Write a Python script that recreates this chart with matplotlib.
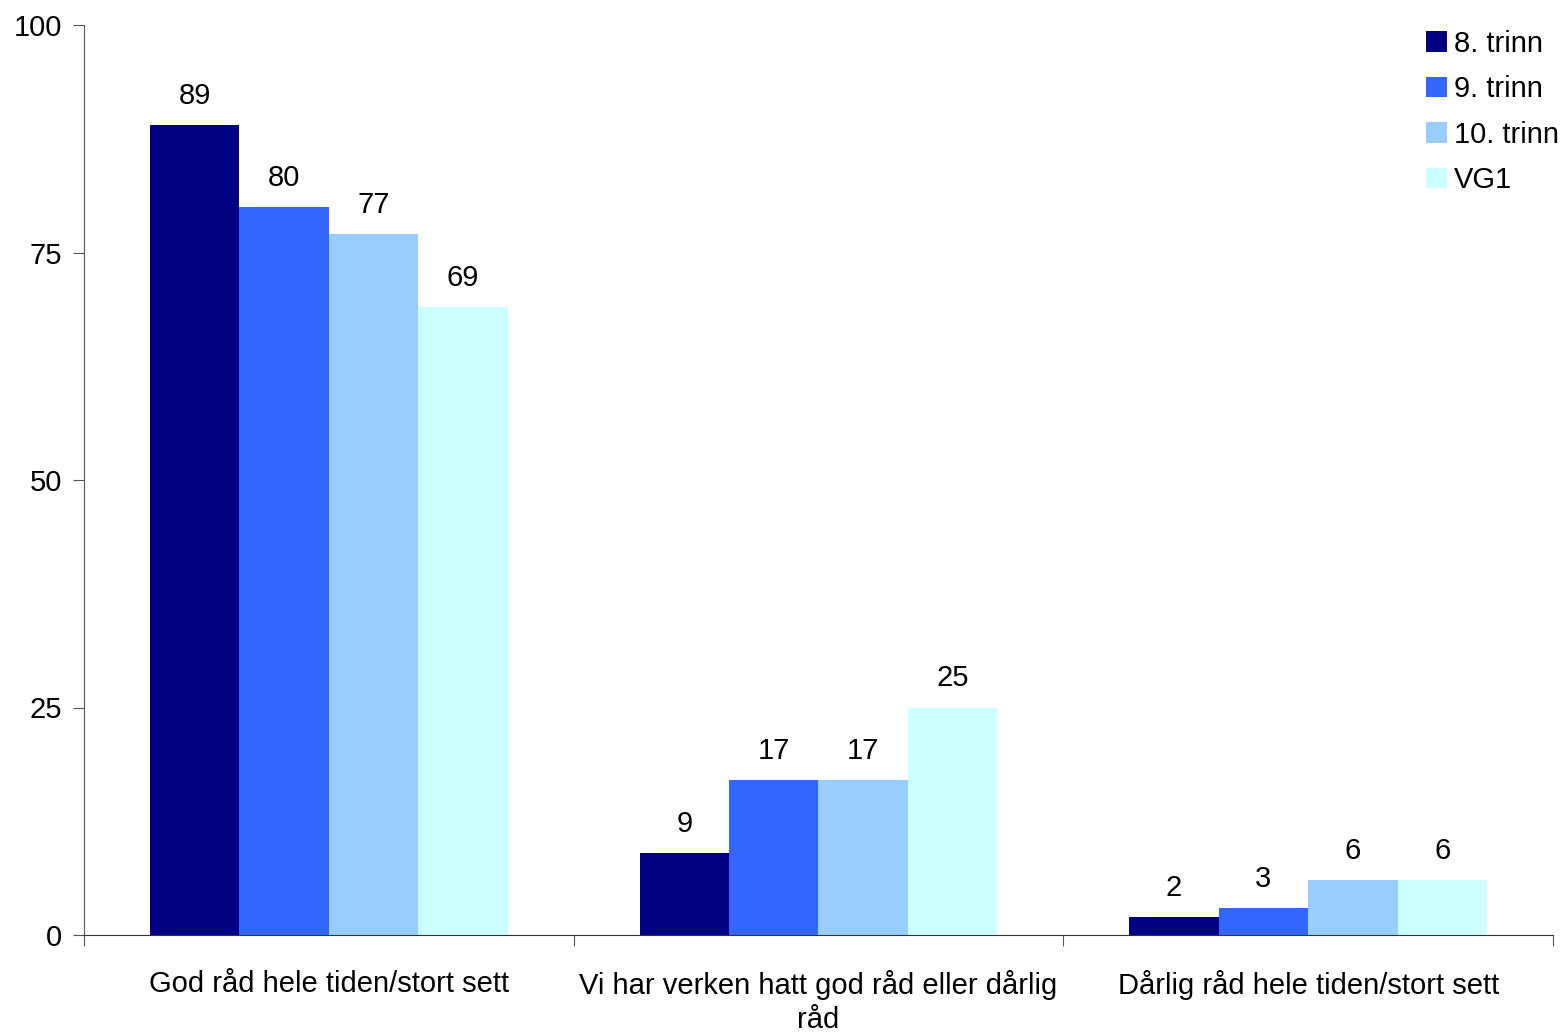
import numpy as np
import matplotlib
matplotlib.use("Agg")
import matplotlib.pyplot as plt
from matplotlib.patches import Patch

plt.rcParams['font.family'] = ['Liberation Sans', 'DejaVu Sans']

categories = ["God råd hele tiden/stort sett",
              "Vi har verken hatt god råd eller dårlig\nråd",
              "Dårlig råd hele tiden/stort sett"]
series_names = ["8. trinn", "9. trinn", "10. trinn", "VG1"]
values = {
    "8. trinn": [89, 9, 2],
    "9. trinn": [80, 17, 3],
    "10. trinn": [77, 17, 6],
    "VG1": [69, 25, 6],
}
colors = ["#000080", "#3366FF", "#99CCFF", "#CCFFFF"]
yticks = [0, 25, 50, 75, 100]

fig = plt.figure(figsize=(15.62, 10.32), dpi=100)
ax = fig.add_axes([84 / 1562, 1 - 935 / 1032, (1553 - 84) / 1562, (935 - 25) / 1032])

x = np.arange(len(categories))
width = 0.73 / len(series_names)
fs = 21

for i, (name, col) in enumerate(zip(series_names, colors)):
    offs = (i - (len(series_names) - 1) / 2) * width
    vals = values[name]
    bars = ax.bar(x + offs, vals, width=width, color=col, edgecolor='none', label=name)
    for b, v in zip(bars, vals):
        ax.annotate(f"{v}", (b.get_x() + b.get_width() / 2, v),
                    xytext=(0, 15), textcoords='offset pixels',
                    ha='center', va='bottom', fontsize=fs)

ax.set_xlim(-0.5, len(categories) - 0.5)
ax.set_ylim(0, 100)
ax.set_yticks(yticks)
ax.set_yticklabels([str(t) for t in yticks], fontsize=fs)

# category boundaries carry the ticks; labels sit at the centres
ax.set_xticks(np.arange(-0.5, len(categories), 1.0))
ax.set_xticklabels([])
ax.tick_params(axis='x', which='major', length=8, direction='out', color='#555555')
for xi, lab in zip(x, categories):
    ax.text(xi, -3.8, lab, transform=ax.transData, ha='center', va='top',
            fontsize=fs, linespacing=1.3, clip_on=False)
ax.tick_params(axis='y', length=8, direction='out', color='#555555', pad=8)

for s in ['top', 'right']:
    ax.spines[s].set_visible(False)
ax.spines['left'].set_color('#555555')
ax.spines['bottom'].set_color('#333333')

handles = [Patch(facecolor=c, edgecolor='none', label=n) for n, c in zip(series_names, colors)]
leg = ax.legend(handles=handles, loc='upper left', bbox_to_anchor=(1414 / 1562, 1 - 18 / 1032),
                bbox_transform=fig.transFigure, frameon=False, fontsize=fs,
                handlelength=0.72, handleheight=0.72, handletextpad=0.25, labelspacing=0.6,
                borderaxespad=0)

fig.savefig("out.png", dpi=100)
